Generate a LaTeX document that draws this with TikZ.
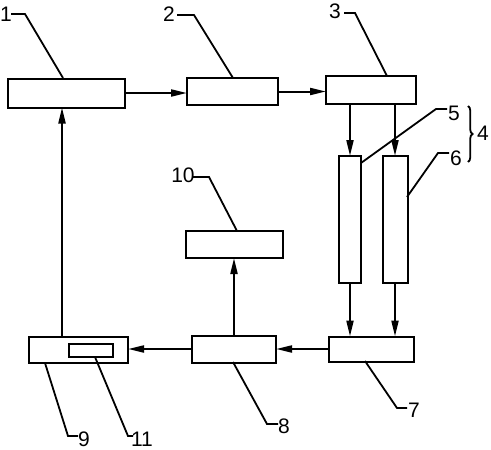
\documentclass[tikz,border=0pt]{standalone}
\usepackage{fontspec}
\setmainfont{Liberation Sans}
\usetikzlibrary{arrows.meta,decorations.pathreplacing}
\begin{document}
\begin{tikzpicture}[x=1pt,y=-1pt,
  box/.style={draw,line width=2pt,rectangle,inner sep=0pt,outer sep=0pt},
  arr/.style={line width=2pt,-{Triangle[length=16pt,width=7pt]}},
  lead/.style={line width=1.8pt},
  lbl/.style={inner sep=0pt,font=\fontsize{21}{21}\selectfont}]
\useasboundingbox (0,0) rectangle (491,450);
% boxes
\node[box,minimum width=117pt,minimum height=29pt] (b1) at (66.5,93) {};
\node[box,minimum width=91pt,minimum height=27pt] (b2) at (232.5,91.5) {};
\node[box,minimum width=90pt,minimum height=28pt] (b3) at (371,90) {};
\node[box,minimum width=22pt,minimum height=127pt] (c5) at (350,219.5) {};
\node[box,minimum width=25pt,minimum height=127pt] (c6) at (395,219.5) {};
\node[box,minimum width=85pt,minimum height=25pt] (b7) at (371.5,349) {};
\node[box,minimum width=84pt,minimum height=27pt] (b8) at (234,349) {};
\node[box,minimum width=99pt,minimum height=26pt] (b9) at (78.5,350) {};
\node[box,minimum width=44pt,minimum height=13pt] (b11) at (91,350.5) {};
\node[box,minimum width=97pt,minimum height=27pt] (b10) at (234,244.5) {};
\coordinate (x9) at (62,0);
% arrows
\draw[arr] (b1.east) -- (b2.west |- b1.east);
\draw[arr] (b2.east) -- (b3.west |- b2.east);
\draw[arr] (b3.south -| c5) -- (c5.north);
\draw[arr] (b3.south -| c6) -- (c6.north);
\draw[arr] (c5.south) -- (c5.south |- b7.north);
\draw[arr] (c6.south) -- (c6.south |- b7.north);
\draw[arr] (b7.west) -- (b8.east |- b7.west);
\draw[arr] (b8.west) -- (b9.east |- b8.west);
\draw[arr] (b8.north -| b10) -- (b10.south);
\draw[arr] (b9.north -| x9) -- (b1.south -| x9);
% labels
\node[lbl] (l1) at (6,14) {1};
\node[lbl] (l2) at (169,14) {2};
\node[lbl] (l3) at (335,11) {3};
\node[lbl] (l4) at (483,133) {4};
\node[lbl] (l5) at (454,113) {5};
\node[lbl] (l6) at (456,158) {6};
\node[lbl] (l7) at (414,410) {7};
\node[lbl] (l8) at (284,426) {8};
\node[lbl] (l9) at (84,439) {9};
\node[lbl] (l10) at (183,175) {10};
\node[lbl] (l11) at (142,439) {11};
% leaders
\draw[lead] (11,14) -- (25,14) -- (63,78);
\draw[lead] (177,15) -- (194,15) -- (233,78);
\draw[lead] (344,13) -- (355,13) -- (387,76);
\draw[lead] (447,109) -- (436,109) -- (361,163);
\draw[lead] (449,153) -- (438,153) -- (407,197);
\draw[lead] (365,361) -- (397,408) -- (407,408);
\draw[lead] (233,362) -- (267,424) -- (278,424);
\draw[lead] (45,363) -- (68,436) -- (78,436);
\draw[lead] (95,357) -- (128,436) -- (133,436);
\draw[lead] (193,177) -- (209,177) -- (237,231);
% brace
\draw[lead,decorate,decoration={brace,amplitude=4.5pt}] (468,106) -- (468,162);
\end{tikzpicture}
\end{document}
